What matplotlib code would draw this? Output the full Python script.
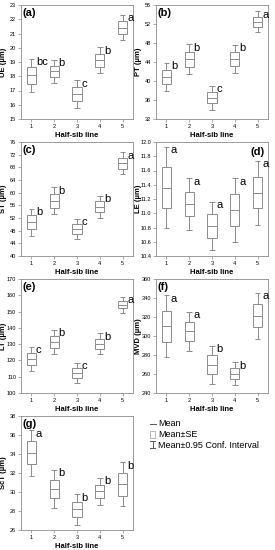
import matplotlib
matplotlib.use("Agg")
import matplotlib.pyplot as plt
from matplotlib.lines import Line2D
from matplotlib.patches import Rectangle

plt.rcParams['font.family'] = ['Liberation Sans', 'DejaVu Sans']

lines = [1, 2, 3, 4, 5]

ue_mean = [18.06, 18.34, 16.75, 19.12, 21.42]
ue_se = [0.58, 0.4, 0.5, 0.45, 0.44]
ue_ci = [1.15, 0.8, 0.98, 0.92, 0.88]
ue_grp = ["bc", "b", "c", "b", "a"]

pt_mean = [40.9, 44.6, 36.5, 44.7, 52.5]
pt_se = [1.5, 1.55, 1.2, 1.45, 1.05]
pt_ci = [2.95, 3.15, 2.5, 2.95, 2.15]
pt_grp = ["b", "b", "c", "b", "a"]

st_mean = [50.7, 57.5, 48.5, 55.6, 69.3]
st_se = [2.1, 2.2, 1.5, 1.65, 1.7]
st_ci = [4.25, 4.2, 3.2, 3.5, 3.4]
st_grp = ["b", "b", "c", "b", "a"]

le_mean = [11.36, 11.13, 10.82, 11.04, 11.29]
le_se = [0.29, 0.175, 0.165, 0.225, 0.215]
le_ci = [0.57, 0.36, 0.34, 0.45, 0.45]
le_grp = ["a", "a", "a", "a", "a"]

lt_mean = [120.9, 131.3, 112.4, 130.3, 154.2]
lt_se = [3.4, 3.7, 3.05, 3.1, 2.05]
lt_ci = [7.5, 7.5, 6.15, 6.5, 4.85]
lt_grp = ["c", "b", "c", "b", "a"]

mvd_mean = [310.2, 304.8, 269.9, 260.2, 321.3]
mvd_se = [16.2, 10.2, 9.9, 5.8, 12.0]
mvd_ci = [32.7, 20.7, 20.0, 12.3, 24.0]
mvd_grp = ["a", "a", "b", "b", "a"]

sct_mean = [34.12, 30.33, 28.16, 30.07, 30.82]
sct_se = [1.2, 0.96, 0.77, 0.7, 1.19]
sct_ci = [2.4, 2.0, 1.6, 1.45, 2.3]
sct_grp = ["a", "b", "b", "b", "b"]

panels = [
    ("(a)", "UE (µm)", ue_mean, ue_se, ue_ci, ue_grp, (15, 23), 1, "left"),
    ("(b)", "PT (µm)", pt_mean, pt_se, pt_ci, pt_grp, (32, 56), 4, "left"),
    ("(c)", "ST (µm)", st_mean, st_se, st_ci, st_grp, (40, 76), 4, "left"),
    ("(d)", "LE (µm)", le_mean, le_se, le_ci, le_grp, (10.4, 12.0), 0.2, "right"),
    ("(e)", "LT (µm)", lt_mean, lt_se, lt_ci, lt_grp, (100, 170), 10, "left"),
    ("(f)", "MVD (µm)", mvd_mean, mvd_se, mvd_ci, mvd_grp, (240, 360), 20, "left"),
    ("(g)", "ScT (µm)", sct_mean, sct_se, sct_ci, sct_grp, (26, 38), 2, "left"),
]

W, H = 275, 550
fig = plt.figure(figsize=(W / 100, H / 100), dpi=100)

gray = "#8c8c8c"
lefts = [21, 156]
tops = [5, 142, 279, 416]
aw, ah = 112, 114

for k, (lab, ylab, mean, se, ci, grp, ylim, step, lpos) in enumerate(panels):
    col, row = k % 2, k // 2
    x0 = lefts[col]
    y0 = tops[row]
    ax = fig.add_axes([x0 / W, 1 - (y0 + ah) / H, aw / W, ah / H])
    bw, cw = 0.4, 0.24
    for x, m, s, c in zip(lines, mean, se, ci):
        ax.add_patch(Rectangle((x - bw / 2, m - s), bw, 2 * s, fill=False,
                               edgecolor=gray, linewidth=0.7))
        ax.hlines(m, x - bw / 2, x + bw / 2, color=gray, linewidth=0.7)
        ax.vlines(x, m + s, m + c, color=gray, linewidth=0.7)
        ax.vlines(x, m - c, m - s, color=gray, linewidth=0.7)
        ax.hlines([m + c, m - c], x - cw / 2, x + cw / 2, color=gray, linewidth=0.7)
    for x, m, c, g in zip(lines, mean, ci, grp):
        ax.annotate(g, (x + 0.14, m + c), xytext=(1, -2.5), textcoords="offset points",
                    fontsize=8, ha="left", va="center")
    ax.set_xlim(0.55, 5.45)
    ax.set_ylim(*ylim)
    n = int(round((ylim[1] - ylim[0]) / step))
    yt = [ylim[0] + i * step for i in range(n + 1)]
    ax.set_yticks(yt)
    if step < 1:
        ax.set_yticklabels([f"{v:.1f}" for v in yt])
    else:
        ax.set_yticklabels([f"{v:g}" for v in yt])
    ax.set_xticks(lines)
    ax.tick_params(labelsize=4.0, length=2, width=0.5, color=gray, pad=1.5)
    for sp in ax.spines.values():
        sp.set_color(gray)
        sp.set_linewidth(0.6)
    ax.set_ylabel(ylab, fontsize=5.5, fontweight="bold")
    ax.yaxis.set_label_coords(-0.125, 0.5)
    ax.set_xlabel("Half-sib line", fontsize=5.5, fontweight="bold", labelpad=2)
    if lpos == "left":
        ax.text(0.015, 0.975, lab, transform=ax.transAxes, fontsize=8,
                fontweight="bold", ha="left", va="top")
    else:
        ax.text(0.97, 0.96, lab, transform=ax.transAxes, fontsize=8,
                fontweight="bold", ha="right", va="top")

# legend
def fx(px):
    return px / W

def fy(py):
    return 1 - py / H

fig.add_artist(Line2D([fx(150), fx(156)], [fy(424), fy(424)], color="#555555", lw=0.7))
fig.add_artist(Rectangle((fx(150), fy(438)), 5 / W, 7 / H, fill=False,
                         edgecolor="#aaaaaa", lw=0.6, transform=fig.transFigure))
fig.add_artist(Line2D([fx(152.5), fx(152.5)], [fy(441), fy(448)], color="#555555", lw=0.7))
fig.add_artist(Line2D([fx(150), fx(155)], [fy(441), fy(441)], color="#555555", lw=0.7))
fig.add_artist(Line2D([fx(150), fx(155)], [fy(448), fy(448)], color="#555555", lw=0.7))
leg_txt = ["Mean", "Mean±SE", "Mean±0.95 Conf. Interval"]
for t, yy in zip(leg_txt, [424, 434.5, 445]):
    fig.text(fx(158), fy(yy), t, fontsize=6.5, ha="left", va="center")

fig.savefig("out.png", dpi=100)
